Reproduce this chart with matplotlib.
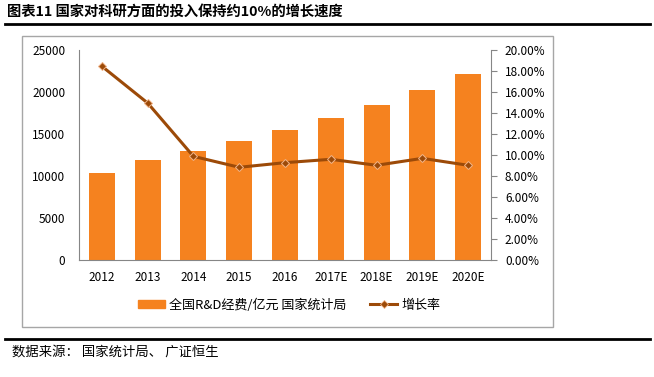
import matplotlib

matplotlib.use("Agg")
import matplotlib.pyplot as plt
from matplotlib.lines import Line2D
from matplotlib.patches import Patch, Rectangle
from matplotlib.ticker import FuncFormatter

plt.rcParams["font.family"] = ["Noto Sans CJK SC", "DejaVu Sans"]

years = ["2012", "2013", "2014", "2015", "2016", "2017E", "2018E", "2019E", "2020E"]
rd_spend = [10298, 11847, 13016, 14170, 15500, 16900, 18450, 20250, 22150]
growth = [18.45, 14.95, 9.87, 8.83, 9.27, 9.59, 9.02, 9.68, 9.02]

W, H = 654, 377
fig = plt.figure(figsize=(W / 100, H / 100), dpi=100)
fig.patch.set_facecolor("white")


def fx(px):
    return px / W


def fy(py):
    return 1 - py / H


# header / footer
fig.text(fx(7), fy(12), "图表11 国家对科研方面的投入保持约10%的增长速度",
         fontsize=10.3, fontweight="bold", va="center", ha="left")
fig.add_artist(Line2D([fx(5), fx(650)], [fy(24), fy(24)], color="black", lw=2))
fig.add_artist(Line2D([fx(5), fx(650)], [fy(339), fy(339)], color="black", lw=2))
fig.text(fx(12), fy(352), "数据来源： 国家统计局、 广证恒生", fontsize=9.6, va="center", ha="left")

# chart frame
fig.add_artist(Rectangle((fx(22), fy(327)), fx(553 - 22), (327 - 36) / H,
                         fill=False, edgecolor="#a6a6a6", lw=1))

ax = fig.add_axes([fx(79), fy(260), fx(491 - 79), 210 / H])
x = range(len(years))
ax.bar(x, rd_spend, width=0.57, color="#F5821F", zorder=2)
ax.set_xlim(-0.5, len(years) - 0.5)
ax.set_ylim(0, 25000)
ax.set_yticks(range(0, 25001, 5000))
ax.set_xticks(list(x))
ax.set_xticklabels(years)

ax2 = ax.twinx()
ax2.plot(x, growth, color="#9C4A08", lw=2.2, marker="D", markersize=4.5,
         markerfacecolor="#9C4A08", markeredgecolor="#F2B58A", markeredgewidth=0.7, zorder=3)
ax2.set_ylim(0, 20)
ax2.set_yticks(range(0, 21, 2))
ax2.yaxis.set_major_formatter(FuncFormatter(lambda v, p: f"{v:.2f}%"))

for a in (ax, ax2):
    for s in a.spines.values():
        s.set_visible(False)
    a.tick_params(labelsize=8.5, colors="black")
ax.spines["left"].set_visible(True)
ax.spines["bottom"].set_visible(True)
ax.spines["left"].set_color("#868686")
ax.spines["bottom"].set_color("#868686")
ax2.spines["right"].set_visible(True)
ax2.spines["right"].set_color("#868686")
ax.tick_params(axis="y", length=0, pad=10)
ax.tick_params(axis="x", length=0, pad=8)
ax2.tick_params(axis="y", length=4, color="#868686", pad=6)

handles = [Patch(color="#F5821F"),
           Line2D([], [], color="#9C4A08", lw=2.2, marker="D", markersize=4,
                  markerfacecolor="#9C4A08", markeredgecolor="#F2B58A", markeredgewidth=0.6)]
fig.legend(handles, ["全国R&D经费/亿元 国家统计局", "增长率"], loc="center",
           bbox_to_anchor=(fx(289), fy(305)), ncol=2, frameon=False, fontsize=9.4,
           handlelength=2.1, handleheight=0.65, columnspacing=1.8, handletextpad=0.3)

fig.savefig("out.png", dpi=100, facecolor="white")
